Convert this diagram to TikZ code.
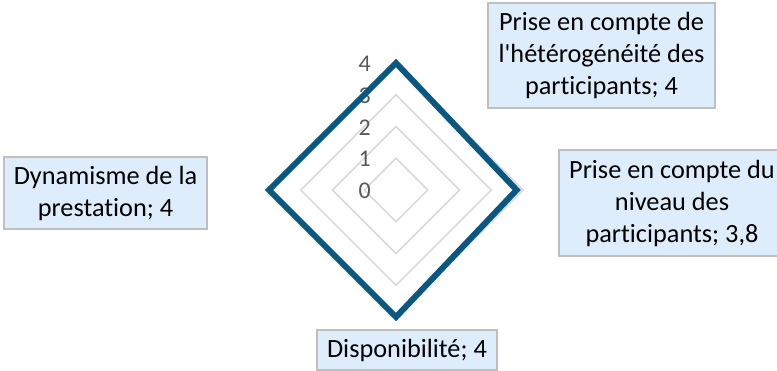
\documentclass[tikz,border=0pt]{standalone}
\usepackage{fontspec}
\setmainfont{Carlito}[Ligatures={TeXOff,NoCommon}]
\usepackage{xcolor}
\usepackage{tikz}
\usetikzlibrary{positioning}
\definecolor{serieblue}{RGB}{10,88,130}
\definecolor{gridgray}{RGB}{217,217,217}
\definecolor{labelfill}{RGB}{222,237,252}
\definecolor{labeldraw}{RGB}{191,191,191}
\definecolor{ticktext}{RGB}{89,89,89}
\tikzstyle{datalabel} = [rectangle, draw=labeldraw, line width=1.5pt, fill=labelfill,
    align=center, inner sep=0pt, font=\fontsize{26.3}{32}\selectfont]
\tikzstyle{gridline} = [draw=gridgray, line width=1.5pt]
\tikzstyle{serie} = [draw=serieblue, line width=6pt, line join=miter]
\tikzstyle{tick} = [anchor=east, text=ticktext, inner sep=0pt, font=\fontsize{24}{28}\selectfont]

\begin{document}
\begin{tikzpicture}[x=1pt, y=-1pt]
    \useasboundingbox (0,0) rectangle (777,370);
    % Grid
    \coordinate (centre) at (396,190);
    \foreach \r in {1,...,4}
        \path[gridline, shift={(centre)}] (0,-31.75*\r) -- (31.75*\r,0) -- (0,31.75*\r) -- (-31.75*\r,0) -- cycle;
    \foreach \v in {0,...,4}
        \node[tick] (tick\v) at (371,191-31.75*\v) {\v};
    % Serie
    \coordinate (heteropt) at (396,63);
    \coordinate (niveaupt) at (516.65,190);
    \coordinate (dispopt) at (396,317);
    \coordinate (dynapt) at (269,190);
    \path[serie] (heteropt) -- (niveaupt) -- (dispopt) -- (dynapt) -- cycle;
    % Labels
    \node[datalabel, minimum width=227pt, minimum height=105pt] (hetero) at (601.5,55.5)
        {Prise en compte de\\l'hétérogénéité des\\participants; 4};
    \node[datalabel, minimum width=226pt, minimum height=106pt] (niveau) at (672,203)
        {Prise en compte du\\niveau des\\participants; 3,8};
    \node[datalabel, minimum width=203pt, minimum height=72pt] (dyna) at (105.5,193)
        {Dynamisme de la\\prestation; 4};
    \node[datalabel, minimum width=180pt, minimum height=40pt] (dispo) at (407,350)
        {Disponibilité; 4};
\end{tikzpicture}
\end{document}
